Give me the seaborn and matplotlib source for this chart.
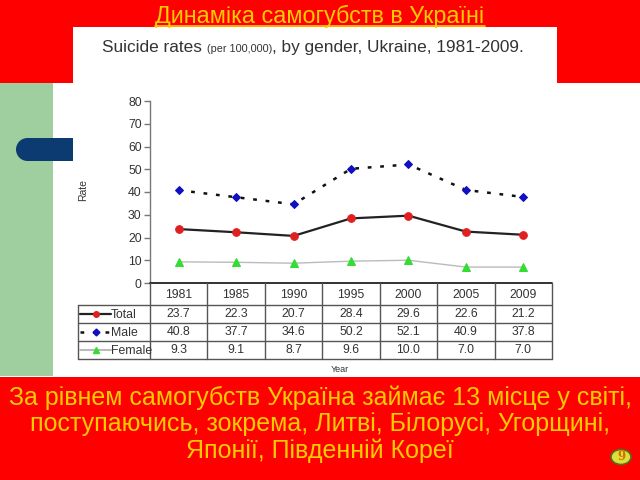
import matplotlib
matplotlib.use("Agg")
import matplotlib.pyplot as plt
import seaborn as sns
import pandas as pd
from matplotlib.patches import Rectangle, Ellipse, Circle
from matplotlib.lines import Line2D

# ---- data ----
years = ["1981", "1985", "1990", "1995", "2000", "2005", "2009"]
total = [23.7, 22.3, 20.7, 28.4, 29.6, 22.6, 21.2]
male = [40.8, 37.7, 34.6, 50.2, 52.1, 40.9, 37.8]
female = [9.3, 9.1, 8.7, 9.6, 10.0, 7.0, 7.0]
series_names = ["Total", "Male", "Female"]
yticks = [0, 10, 20, 30, 40, 50, 60, 70, 80]
slide_title = "Динаміка самогубств в Україні"
chart_title_a = "Suicide rates "
chart_title_b = "(per 100,000)"
chart_title_c = ", by gender, Ukraine, 1981-2009."
bottom_lines = ["За рівнем самогубств Україна займає 13 місце у світі,",
                "поступаючись, зокрема, Литві, Білорусі, Угорщині,",
                "Японії, Південній Кореї"]
page_no = "9"

sns.set_theme(style="white")
plt.rcParams["font.family"] = ["Liberation Sans", "DejaVu Sans"]

W, H = 640, 480
fig = plt.figure(figsize=(6.4, 4.8), dpi=100, facecolor="white")

def fx(x):
    return x / W

def fy(y):
    return 1 - y / H

def rect(x0, y0, x1, y1, color, z):
    fig.add_artist(Rectangle((fx(x0), fy(y1)), fx(x1) - fx(x0), fy(y0) - fy(y1),
                             transform=fig.transFigure, facecolor=color,
                             edgecolor="none", zorder=z))

RED = "#FF0000"
YEL = "#FFCC00"
rect(0, 0, 640, 83, RED, 0)
rect(0, 377, 640, 480, RED, 0)
rect(0, 83, 53, 376, "#9FCE9F", 0)
# dark blue tab with rounded left end
BLUE = "#0B3B70"
rect(27, 138, 80, 161, BLUE, 0.5)
fig.add_artist(Ellipse((fx(27.5), fy(149.5)), 23 / W, 23 / H, transform=fig.transFigure,
                       facecolor=BLUE, edgecolor="none", zorder=0.5))
# white chart box
rect(73, 27, 557, 377, "white", 1)

# slide title
t = fig.text(fx(320), fy(16), slide_title, ha="center", va="center",
             fontsize=16.8, color=YEL, zorder=5)
fig.canvas.draw()
bb = t.get_window_extent()
fig.add_artist(Line2D([bb.x0 / W, bb.x1 / W], [fy(25.5), fy(25.5)], color=YEL, lw=1.2,
                      transform=fig.transFigure, zorder=6))

# chart title (mixed sizes), pieces chained left to right
renderer = fig.canvas.get_renderer()
xcur = fx(102)
pieces = [(chart_title_a, 12.4), (chart_title_b, 7.8), (chart_title_c, 12.4)]
for txt, fs in pieces:
    tt = fig.text(xcur, fy(52), txt, ha="left", va="baseline", fontsize=fs,
                  color="#333333", zorder=5)
    xcur = tt.get_window_extent(renderer).x1 / W

# ---- main line chart ----
ax = fig.add_axes([fx(150), fy(283), fx(552) - fx(150), fy(101) - fy(283)])
ax.set_zorder(3)
ax.patch.set_alpha(0)
df = pd.DataFrame({"pos": list(range(len(years))) * 3,
                   "rate": total + male + female,
                   "series": [series_names[0]] * 7 + [series_names[1]] * 7 + [series_names[2]] * 7})

sns.lineplot(data=df[df.series == "Female"], x="pos", y="rate", ax=ax, color="#BBBBBB",
             lw=1.0, marker="^", markersize=6, markerfacecolor="#33DD33",
             markeredgecolor="#33DD33", legend=False)
sns.lineplot(data=df[df.series == "Total"], x="pos", y="rate", ax=ax, color="#222222",
             lw=1.6, marker="o", markersize=5.5, markerfacecolor="#E02020",
             markeredgecolor="#E02020", legend=False)
sns.lineplot(data=df[df.series == "Male"], x="pos", y="rate", ax=ax, color="#111111",
             lw=1.8, marker="D", markersize=4.5, markerfacecolor="#1010C0",
             markeredgecolor="#1010C0", legend=False)
ax.lines[-1].set_dashes([1.5, 3.5])

ax.set_xlim(-0.5, len(years) - 0.5)
ax.set_ylim(0, 80)
ax.set_yticks(yticks)
ax.set_yticklabels([str(v) for v in yticks], fontsize=8.8, color="#333333")
ax.set_xticks([])
ax.set_xlabel("")
ax.set_ylabel("Rate", fontsize=7.5, color="#333333")
ax.yaxis.set_label_coords(-0.155, 0.51)
for s in ["top", "right", "bottom"]:
    ax.spines[s].set_visible(False)
ax.spines["left"].set_color("#777777")
ax.spines["left"].set_linewidth(1)
ax.tick_params(axis="y", length=4, width=1, color="#777777", left=True, pad=2)

# ---- data table ----
colw = (552 - 150) / len(years)
xleft = -0.5 - (150 - 78) / colw
tab = fig.add_axes([fx(78), fy(359), fx(552) - fx(78), fy(283) - fy(359)])
tab.set_zorder(3)
tab.patch.set_alpha(0)
tab.set_xlim(xleft, len(years) - 0.5)
tab.set_ylim(76, 0)
tab.axis("off")
row_edges = [0, 22, 40, 58, 76]
lc = "#555555"
tab.plot([-0.5, len(years) - 0.5], [0, 0], color="#222222", lw=1.3, clip_on=False)
for ye in row_edges[1:]:
    tab.plot([xleft, len(years) - 0.5], [ye, ye], color=lc, lw=1, clip_on=False)
tab.plot([xleft, xleft], [22, 76], color=lc, lw=1, clip_on=False)
for i in range(len(years) + 1):
    tab.plot([i - 0.5, i - 0.5], [0, 76], color=lc, lw=1, clip_on=False)
for i, yr in enumerate(years):
    tab.text(i, 11.5, yr, ha="center", va="center", fontsize=8.8, color="#333333")
rows = [total, male, female]
for r, vals in enumerate(rows):
    yc = (row_edges[r + 1] + row_edges[r + 2]) / 2
    for i, v in enumerate(vals):
        tab.text(i, yc, f"{v:.1f}", ha="center", va="center", fontsize=8.8, color="#333333")

def pxd(p):
    return xleft + (p - 78) / colw

leg_styles = [
    dict(color="#222222", lw=1.6, ls="-", marker="o", mfc="#E02020", mec="#E02020", ms=4),
    dict(color="#111111", lw=1.8, ls=(0, (1.5, 3.5)), marker="D", mfc="#1010C0", mec="#1010C0", ms=3.5),
    dict(color="#BBBBBB", lw=1.5, ls="-", marker="^", mfc="#33DD33", mec="#33DD33", ms=4.5),
]
for r, name in enumerate(series_names):
    yc = (row_edges[r + 1] + row_edges[r + 2]) / 2
    st = leg_styles[r]
    tab.plot([pxd(80), pxd(111)], [yc, yc], color=st["color"], lw=st["lw"], ls=st["ls"],
             clip_on=False)
    tab.plot([pxd(95.5)], [yc], marker=st["marker"], ms=st["ms"], mfc=st["mfc"],
             mec=st["mec"], ls="none", clip_on=False)
    tab.text(pxd(111), yc + 1, name, ha="left", va="center", fontsize=8.8, color="#333333")

fig.text(fx(340), fy(370), "Year", ha="center", va="center", fontsize=6.5,
         color="#333333", zorder=5)

# bottom text
for k, line in enumerate(bottom_lines):
    fig.text(fx(320), fy(398 + 26.5 * k), line, ha="center", va="center", fontsize=18,
             color=YEL, zorder=5)

# page number badge
fig.add_artist(Circle((fx(621), fy(457)), 10 / W, transform=fig.transFigure,
                      facecolor="#D8E03A", edgecolor="#5A6A20", lw=1.2, zorder=5))
fig.text(fx(621), fy(457), page_no, ha="center", va="center", fontsize=8.5,
         color="#E06A00", family="DejaVu Serif", fontweight="bold", zorder=6)

fig.savefig("out.png", dpi=100, facecolor="white")
